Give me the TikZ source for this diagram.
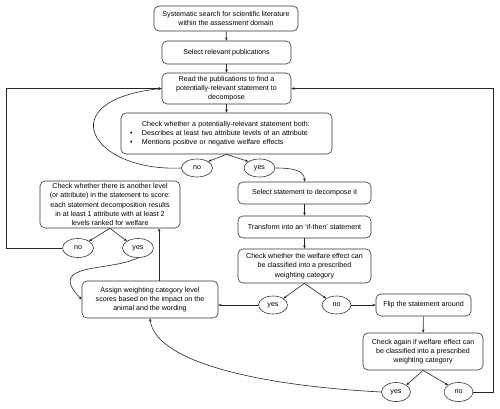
\documentclass[tikz,border=0pt]{standalone}
\usepackage{fontspec}
\setmainfont{Liberation Sans}
\usetikzlibrary{shapes.geometric,arrows.meta,calc}
\begin{document}
\begin{tikzpicture}[x=1pt,y=-1pt,
 box/.style={draw=black!80, rounded corners=5pt, line width=0.6pt, align=center, inner sep=1pt, font=\fontsize{7.1}{9.2}\selectfont},
 oval/.style={draw=black!80, ellipse, line width=0.6pt, inner sep=0pt, font=\fontsize{7.1}{9.2}\selectfont},
 arr/.style={draw=black!85, line width=0.6pt, -{Stealth[length=3.2pt,width=2.6pt]}},
 ln/.style={draw=black!85, line width=0.6pt},
]
\useasboundingbox (0,0) rectangle (500,408);

\node[box, minimum width=144pt, minimum height=25pt] (n1) at (226,18.5) {Systematic search for scientific literature\\within the assessment domain};
\node[box, minimum width=129pt, minimum height=23pt] (n2) at (226.5,52.5) {Select relevant publications};
\node[box, minimum width=129pt, minimum height=31pt] (n3) at (226.5,88.5) {Read the publications to find a\\potentially-relevant statement to\\decompose};
\node[box, minimum width=211pt, minimum height=41pt, text width=205pt, align=left] (n4) at (226.5,133.5)
 {\hspace*{18pt}Check whether a potentially-relevant statement both:\\
  \hspace*{6pt}\makebox[12pt][l]{\textbullet}Describes at least two attribute levels of an attribute\\
  \hspace*{6pt}\makebox[12pt][l]{\textbullet}Mentions positive or negative welfare effects};
\node[oval, minimum width=31pt, minimum height=18pt] (no1) at (197,168) {no};
\node[oval, minimum width=31pt, minimum height=18pt] (yes1) at (259.5,168) {yes};

\node[box, minimum width=133pt, minimum height=22pt] (sel) at (304.5,193) {Select statement to decompose it};
\node[box, minimum width=133pt, minimum height=22pt] (trans) at (304.5,227) {Transform into an `if-then' statement};
\node[box, minimum width=133pt, minimum height=34pt] (chk) at (304.5,266) {Check whether the welfare effect can\\be classified into a prescribed\\weighting category};

\node[box, minimum width=140pt, minimum height=47pt] (cka) at (110,204.5) {Check whether there is another level\\(or attribute) in the statement to score:\\each statement decomposition results\\in at least 1 attribute with at least 2\\levels ranked for welfare};
\node[oval, minimum width=31pt, minimum height=19pt] (no2) at (78,248) {no};
\node[oval, minimum width=31pt, minimum height=19pt] (yes2) at (138,248) {yes};

\node[box, minimum width=136pt, minimum height=37pt] (asg) at (150,299.5) {Assign weighting category level\\scores based on the impact on the\\animal and the wording};
\node[oval, minimum width=29pt, minimum height=18pt] (yes3) at (273,305) {yes};
\node[oval, minimum width=29pt, minimum height=18pt] (no3) at (336.5,305) {no};
\node[box, minimum width=95pt, minimum height=22pt] (flip) at (423.5,305) {Flip the statement around};
\node[box, minimum width=120pt, minimum height=37pt] (chka) at (423,351.5) {Check again if welfare effect can\\be classified into a prescribed\\weighting category};
\node[oval, minimum width=29pt, minimum height=19pt] (yes4) at (396,392) {yes};
\node[oval, minimum width=29pt, minimum height=19pt] (no4) at (458.5,392) {no};

\coordinate (L) at (6,0);
\coordinate (R) at (493,0);

\draw[arr] (n1) -- (n2);
\draw[arr] (n2) -- (n3);
\draw[arr] (n3) -- (n4);
\draw[arr] (n4.south) -- (no1.north east);
\draw[arr] (n4.south) -- (yes1.north west);
\draw[arr] (no1.west) .. controls (90,172) and (50,100) .. (n3.west);
\draw[arr] (yes1.east) .. controls (292,168) and (304.5,170) .. (sel.north);
\draw[arr] (sel) -- (trans);
\draw[arr] (trans) -- (chk);
\draw[arr] (chk.south) -- (yes3.north east);
\draw[arr] (chk.south) -- (no3.north west);
\draw[arr] (yes3.west) -- (yes3.west -| asg.east);
\draw[arr] (no3.east) -- (flip.west);
\draw[arr] (flip) -- (chka);
\draw[arr] (chka.south) -- (yes4.north east);
\draw[arr] (chka.south) -- (no4.north west);
\draw[arr] (yes4.west) .. controls (250,385) and (155,360) .. (asg.south);
\draw[arr] (no4.east) -- (no4.east -| R) |- (n3.east);
\draw[arr] ([xshift=9pt]asg.north) -- ([xshift=9pt]asg.north |- cka.south);
\draw[arr] (cka.south) -- (no2.north east);
\draw[arr] (cka.south) -- (yes2.north west);
\draw[arr] (no2.west) -- (no2.west -| L) |- (n3.west);
\draw[arr] (yes2.south) .. controls (110,272) and (45,262) .. (asg.west);
\end{tikzpicture}
\end{document}
